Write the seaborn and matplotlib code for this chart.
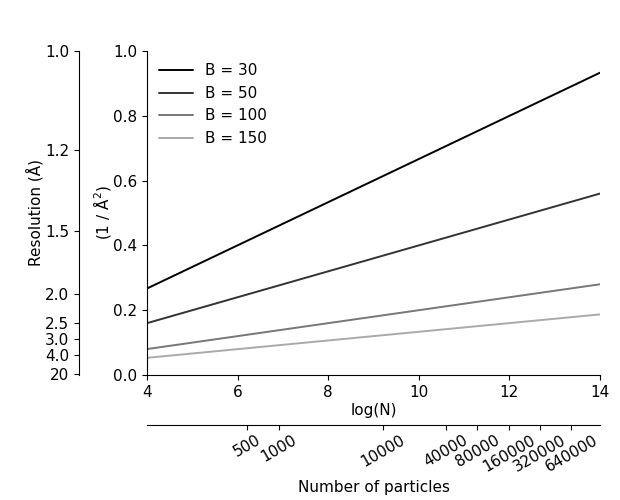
import numpy as np
import pandas as pd
import seaborn as sns
from matplotlib import pyplot as plt

# values
b_factors = [30, 50, 100, 150]
log_n = [4, 14]
inv_res_sq = {30: [0.267, 0.933], 50: [0.16, 0.56], 100: [0.08, 0.28], 150: [0.053, 0.187]}
line_colors = ["#000000", "#333333", "#777777", "#aaaaaa"]

res_ticks = [1.0, 1.2, 1.5, 2.0, 2.5, 3.0, 4.0, 20]
res_labels = ["1.0", "1.2", "1.5", "2.0", "2.5", "3.0", "4.0", "20"]
particle_ticks = [500, 1000, 10000, 40000, 80000, 160000, 320000, 640000]

rows = []
for b in b_factors:
    for x, y in zip(log_n, inv_res_sq[b]):
        rows.append({"logN": x, "y": y, "B": f"B = {b}"})
df = pd.DataFrame(rows)

sns.set_style("ticks")
plt.rcParams["font.family"] = ["DejaVu Sans"]
plt.rcParams["font.size"] = 11
for key in ["text.color", "axes.labelcolor", "xtick.color", "ytick.color",
            "axes.edgecolor"]:
    plt.rcParams[key] = "black"

fig = plt.figure(figsize=(6.2, 5), dpi=100)
ax = fig.add_axes([147 / 620, 1 - 375 / 500, (600 - 147) / 620, (375 - 51) / 500])

sns.lineplot(data=df, x="logN", y="y", hue="B", palette=line_colors,
             linewidth=1.4, ax=ax)
ax.set_xlim(4, 14)
ax.set_ylim(0, 1)
ax.set_xticks([4, 6, 8, 10, 12, 14])
ax.set_yticks([0.0, 0.2, 0.4, 0.6, 0.8, 1.0])
ax.set_xlabel("log(N)", fontsize=11, labelpad=2)
ax.set_ylabel("(1 / Å$^2$)", fontsize=11, labelpad=0)
ax.tick_params(labelsize=11)
leg = ax.legend(loc="upper left", frameon=False, fontsize=11, handlelength=2.2,
                borderaxespad=0.4, bbox_to_anchor=(0.0, 1.0))
for spine in ["top", "right"]:
    ax.spines[spine].set_visible(False)

# resolution axis on the left
ax_res = ax.twinx()
ax_res.set_ylim(0, 1)
ax_res.yaxis.set_ticks_position("left")
ax_res.yaxis.set_label_position("left")
ax_res.spines["left"].set_position(("outward", 49))
for spine in ["top", "right", "bottom"]:
    ax_res.spines[spine].set_visible(False)
ax_res.set_yticks([1 / r ** 2 for r in res_ticks])
ax_res.set_yticklabels(res_labels)
ax_res.tick_params(labelsize=11)
ax_res.set_ylabel("Resolution (Å)", fontsize=11, labelpad=1)

# particle count axis below
ax_n = ax.twiny()
ax_n.set_xlim(4, 14)
ax_n.xaxis.set_ticks_position("bottom")
ax_n.xaxis.set_label_position("bottom")
ax_n.spines["bottom"].set_position(("outward", 36))
for spine in ["top", "right", "left"]:
    ax_n.spines[spine].set_visible(False)
ax_n.set_xticks(np.log(particle_ticks))
ax_n.set_xticklabels([str(p) for p in particle_ticks], rotation=30)
ax_n.tick_params(labelsize=11, pad=2)
ax_n.set_xlabel("Number of particles", fontsize=11, labelpad=4)

fig.savefig("out.png", dpi=100)
